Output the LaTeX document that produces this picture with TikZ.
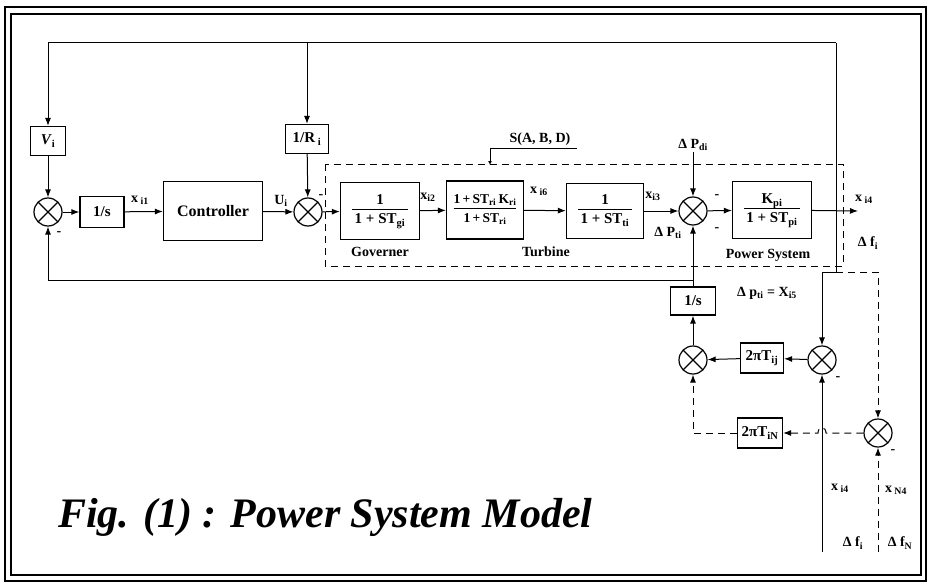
\documentclass[tikz,border=0pt]{standalone}
\usepackage{fontspec}
\setmainfont{Liberation Serif}
\usetikzlibrary{arrows.meta}
\newcommand\fr[2]{\begin{tabular}{@{\,}c@{\,}}#1\\[-1pt]\hline\rule{0pt}{14pt}#2\end{tabular}}
\newcommand\frn[2]{\begin{tabular}{@{}c@{}}#1\\[-1pt]\hline\rule{0pt}{14pt}#2\end{tabular}}
\newcommand\sbs[1]{\textsubscript{#1}}
\begin{document}
\begin{tikzpicture}[x=1pt,y=-1pt,
  font=\bfseries\fontsize{15}{17}\selectfont,
  blk/.style={draw, line width=1.2pt, inner sep=1pt, align=center},
  sumj/.style={circle, draw, line width=1.2pt, minimum size=28pt, inner sep=0pt,
    path picture={\draw[line width=1.2pt] (path picture bounding box.south west) -- (path picture bounding box.north east)
      (path picture bounding box.north west) -- (path picture bounding box.south east);}},
  arr/.style={-{Latex[length=8pt,width=6pt]}, line width=1pt},
  lbl/.style={inner sep=1pt, font=\bfseries\fontsize{14}{16}\selectfont},
  sgn/.style={inner sep=0pt, font=\bfseries\fontsize{14}{16}\selectfont},
  dsh/.style={dash pattern=on 7pt off 5pt}]
\useasboundingbox (0,0) rectangle (932,586);
\setlength\arrayrulewidth{1pt}
% frame
\draw[line width=2pt] (5,7) rectangle (926,581);
\draw[line width=1.2pt] (11,14) rectangle (921,575);
% dashed plant box
\draw[dsh, line width=1pt] (325,164) rectangle (843,266);
% blocks
\node[blk, minimum width=35pt, minimum height=29pt] (V) at (48,141) {\textit{V}\sbs{i}};
\node[sumj] (S1) at (48,212) {};
\node[blk, minimum width=44pt, minimum height=31pt] (I1) at (102,212) {1/s};
\node[blk, minimum width=99pt, minimum height=59pt, font=\bfseries\fontsize{16}{18}\selectfont] (C) at (213,211) {Controller};
\node[sumj] (S2) at (308,212) {};
\node[blk, minimum width=43pt, minimum height=29pt] (R) at (307,139) {1/R\sbs{ i}};
\node[blk, minimum width=79pt, minimum height=57pt] (G) at (380,211) {\fr{1}{1 + ST\sbs{gi}}};
\node[blk, minimum width=77pt, minimum height=58pt, inner sep=0pt, font=\bfseries\fontsize{13.5}{16}\selectfont] (RH) at (485,210) {\frn{1\,+\,ST\sbs{ri}\,K\sbs{ri}}{1\,+\,ST\sbs{ri}}};
\node[blk, minimum width=77pt, minimum height=55pt] (T) at (605,211) {\fr{1}{1 + ST\sbs{ti}}};
\node[sumj] (S3) at (693,211) {};
\node[blk, minimum width=79pt, minimum height=57pt] (P) at (772,210) {\fr{K\sbs{pi}}{1 + ST\sbs{pi}}};
\node[blk, minimum width=45pt, minimum height=28pt] (I2) at (693,301) {1/s};
\node[sumj] (S4) at (693,360) {};
\node[blk, minimum width=43pt, minimum height=30pt] (K1) at (762,358) {2πT\sbs{ij}};
\node[sumj] (S5) at (822,360) {};
\node[sumj] (S6) at (878,433) {};
\node[blk, minimum width=45pt, minimum height=30pt] (K2) at (760,433) {2πT\sbs{iN}};
% coordinates
\coordinate (tl) at (48,43);
\coordinate (t2) at (307,43);
\coordinate (tr) at (836,43);
\coordinate (j1) at (836,272);
\coordinate (jb) at (693,280);
\coordinate (out) at (858,211);
\coordinate (b1) at (822,552);
\coordinate (b2) at (878,552);
\coordinate (sA) at (577,148);
\coordinate (sB) at (490,148);
\coordinate (sC) at (490,165);
% forward path
\draw[arr] (S1) -- (I1);
\draw[arr] (I1) -- (C);
\draw[arr] (C) -- (S2);
\draw[arr] (S2) -- (G);
\draw[arr] (G) -- (RH);
\draw[arr] (RH) -- (T);
\draw[arr] (T) -- (S3);
\draw[arr] (S3) -- (P);
\draw[arr] (P) -- (out);
% top feedback
\draw[line width=1pt] (tr) -- (tl);
\draw[arr] (tl) -- (V);
\draw[arr] (t2) -- (R);
\draw[arr] (V) -- (S1);
\draw[arr] (R) -- (S2);
\draw[arr] (tr) -- (j1) -| (S5.north);
\draw[arr, dsh] (j1) -| (S6.north);
% lower feedback
\draw[arr] (I2) -- (S3);
\draw[arr] (jb) -| (S1.south);
\draw[arr] (S4) -- (I2);
\draw[arr] (S5) -- (K1);
\draw[arr] (K1) -- (S4);
\draw[arr] (b1) -- (S5.south);
\draw[arr, dsh] (b2) -- (S6.south);
\draw[arr, dsh] (S6.west) -- (826,433) .. controls (826,426) and (818,426) .. (818,433) -- (K2.east);
\draw[arr, dsh] (K2.west) -| (S4.south);
% S(A,B,D)
\draw[-{Latex[length=4pt,width=4pt]}, line width=1pt] (sA) -- (sB) -- (sC);
\node[lbl] (sabd) at (540,139) {S(A, B, D)};
% disturbance
\node[lbl] (Pd) at (693,145) {Δ P\sbs{di}};
\draw[arr] (Pd) -- (S3);
% labels
\node[lbl] (lx1) at (140,200) {x\sbs{ i1}};
\node[lbl] (lu) at (281,201) {U\sbs{i}};
\node[lbl] (lx2) at (428,197) {x\sbs{i2}};
\node[lbl] (lx6) at (539,191) {x\sbs{ i6}};
\node[lbl] (lx3) at (653,196) {x\sbs{i3}};
\node[lbl] (lpt) at (668,233) {Δ P\sbs{ti}};
\node[lbl] (lx4) at (864,199) {x\sbs{ i4}};
\node[lbl] (ldf) at (868,243) {Δ f\sbs{i}};
\node[lbl] (lgov) at (380,252) {Governer};
\node[lbl] (ltur) at (546,252) {Turbine};
\node[lbl] (lps) at (768,255) {Power System};
\node[lbl] (ltie) at (767,293) {Δ p\sbs{ti} = X\sbs{i5}};
\node[lbl] (lbx4) at (840,488) {x\sbs{ i4}};
\node[lbl] (lbf) at (853,543) {Δ f\sbs{i}};
\node[lbl] (lbxn) at (896,490) {x\sbs{ N4}};
\node[lbl] (lbfn) at (900,543) {Δ f\sbs{N}};
% signs
\node[sgn] at (59,234) {-};
\node[sgn] at (321,197) {-};
\node[sgn] at (717,197) {-};
\node[sgn] at (717,230) {-};
\node[sgn] at (838,379) {-};
\node[sgn] at (893,452) {-};
% caption
\node[inner sep=0pt, anchor=west, font=\bfseries\itshape\fontsize{42}{50}\selectfont] (cap) at (58,517) {Fig. (1) : Power System Model};
\end{tikzpicture}
\end{document}
